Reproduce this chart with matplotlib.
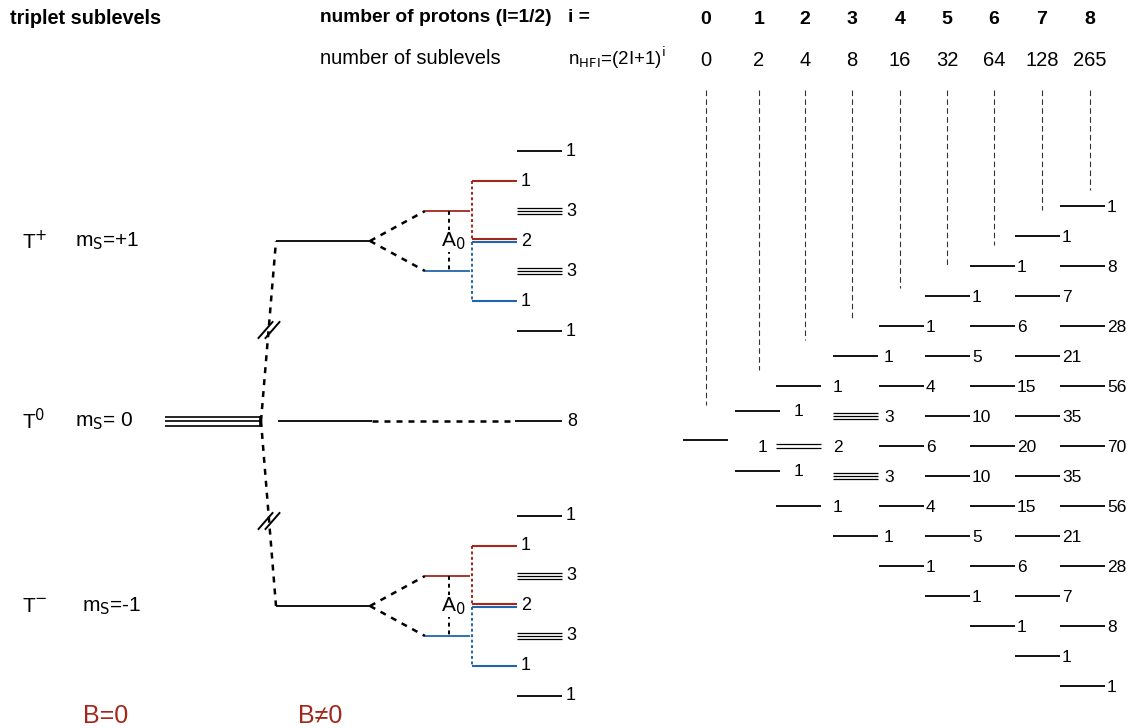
import matplotlib.pyplot as plt

plt.rcParams['font.family'] = ['Liberation Sans', 'DejaVu Sans']

# ---- data ----
proton_numbers = ['0', '1', '2', '3', '4', '5', '6', '7', '8']
sublevel_numbers = ['0', '2', '4', '8', '16', '32', '64', '128', '265']
# degeneracies of the hyperfine sublevels for i protons (top to bottom)
degeneracies = [
    [1],
    [1, 1],
    [1, 2, 1],
    [1, 3, 3, 1],
    [1, 4, 6, 4, 1],
    [1, 5, 10, 10, 5, 1],
    [1, 6, 15, 20, 15, 6, 1],
    [1, 7, 21, 35, 35, 21, 7, 1],
    [1, 8, 28, 56, 70, 56, 28, 8, 1],
]
triplet_labels = ['T$^{+}$', 'T$^{0}$', 'T$^{-}$']
ms_labels = ['m$_\\mathrm{S}$=+1', 'm$_\\mathrm{S}$= 0', 'm$_\\mathrm{S}$=-1']
# sublevels of one T+/T- state for three protons (outer column), top to bottom
outer_degeneracy = [1, 3, 3, 1]
red_degeneracy = [1, 2]
blue_degeneracy = [2, 1]
t0_degeneracy = 8

RED = '#a3271b'
BLUE = '#2166ac'

fig = plt.figure(figsize=(11.32, 7.28), dpi=100)
ax = fig.add_axes([0, 0, 1, 1])
ax.set_xlim(0, 1132)
ax.set_ylim(728, 0)
ax.axis('off')


def level(x0, x1, y, n=1, color='k', lw=1.3, gap=2.4):
    for k in range(n):
        yy = y + (k - (n - 1) / 2) * gap
        ax.plot([x0, x1], [yy, yy], color=color, lw=lw, solid_capstyle='butt')


def dashed(xs, ys, color='k', lw=1.6, dashes=(2.4, 2.4)):
    ax.plot(xs, ys, color=color, lw=lw, dashes=dashes)


# ---- headers ----
ax.text(10, 18, 'triplet sublevels', fontsize=14.3, fontweight='bold', va='center')
ax.text(320, 18, 'number of protons (I=1/2)', fontsize=13.8, fontweight='bold', va='center')
ax.text(568, 18, 'i =', fontsize=13.8, fontweight='bold', va='center')
ax.text(320, 58, 'number of sublevels', fontsize=14.5, va='center')
ax.text(568, 58, 'n$_\\mathrm{HFI}$=(2I+1)$^\\mathrm{i}$', fontsize=13.5, va='center')

head_x = [706, 759, 805, 852, 900, 947, 994, 1042, 1090]
dash_end = [405, 370, 340, 318, 288, 265, 245, 210, 190]
for i in range(len(proton_numbers)):
    ax.text(head_x[i], 19, proton_numbers[i], fontsize=14, fontweight='bold',
            ha='center', va='center')
    ax.text(head_x[i], 60, sublevel_numbers[i], fontsize=14.5, ha='center', va='center')
    ax.plot([head_x[i], head_x[i]], [90, dash_end[i]], color='#333333', lw=0.8,
            dashes=(5, 3))

# ---- left part: triplet levels ----
t_y = [241, 421, 606]
for k in range(3):
    ax.text(22, t_y[k], triplet_labels[k], fontsize=15, va='center')
    ax.text(75 if k < 2 else 82, t_y[k], ms_labels[k], fontsize=15, va='center')

ax.text(83, 716, 'B=0', fontsize=18, color=RED, va='center')
ax.text(298, 716, 'B≠0', fontsize=18, color=RED, va='center')

# B = 0 : threefold degenerate level
level(165, 260, t_y[1], n=3, gap=4.5, lw=1.2)
ax.plot([260, 260], [t_y[1] - 4.5, t_y[1] + 4.5], color='k', lw=1.2)

# splitting in the field
for ty in (t_y[0], t_y[2]):
    dashed([261, 276], [t_y[1], ty], lw=1.8)
    level(276, 370, ty)
for yb in (330, 521):
    for off in (-3.5, 3.5):
        ax.plot([262 + off, 276 + off], [yb + 8, yb - 8], color='k', lw=1.4)

# T0 : no hyperfine splitting visible
level(278, 372, t_y[1])
dashed([372, 515], [t_y[1], t_y[1]], lw=1.8)
level(515, 562, t_y[1])
ax.text(567, t_y[1], str(t0_degeneracy), fontsize=13, va='center')

# T+ and T- : hyperfine splitting by one proton then two more
for ty in (t_y[0], t_y[2]):
    y_red, y_blue = ty - 30, ty + 30
    dashed([370, 425], [ty, y_red], lw=1.8)
    dashed([370, 425], [ty, y_blue], lw=1.8)
    level(425, 470, y_red, color=RED)
    level(425, 470, y_blue, color=BLUE)
    dashed([449, 449], [y_red, y_blue], lw=1.4, dashes=(2, 2))
    ax.text(441, ty, 'A$_0$', fontsize=15, va='center',
            bbox=dict(facecolor='white', edgecolor='none', pad=0.5))

    # red branch
    red_y = [y_red - 30, ty - 2]
    dashed([472, 472], [red_y[0], red_y[1]], color=RED, lw=1.4, dashes=(1.5, 1.3))
    for yy in red_y:
        level(472, 517, yy, color=RED, lw=1.5)
    ax.text(521, red_y[0], str(red_degeneracy[0]), fontsize=13, va='center')
    # blue branch
    blue_y = [ty + 1, y_blue + 30]
    dashed([472, 472], [blue_y[0], blue_y[1]], color=BLUE, lw=1.4, dashes=(1.5, 1.3))
    for yy in blue_y:
        level(472, 517, yy, color=BLUE, lw=1.5)
    ax.text(521, ty, str(blue_degeneracy[0]), fontsize=13, va='center')
    ax.text(521, blue_y[1], str(blue_degeneracy[1]), fontsize=13, va='center')

    # outer black sublevels
    outer_y = [ty - 90, ty - 30, ty + 30, ty + 90]
    for yy, d in zip(outer_y, outer_degeneracy):
        level(517, 562, yy, n=d, gap=2.7, lw=0.9 if d > 1 else 1.3)
        ax.text(566, yy, str(d), fontsize=13, va='center')

# ---- right part: Pascal triangle of sublevels ----
col_x = [683, 735, 776, 833, 879, 925, 970, 1015, 1060]
col_dy = [-6, -5, 0, 0, 0, 0, 0, 0, 0]
label_gap = [30, 14, 12, 6, 2, 2, 2, 2, 2]
y_center = 446
half_step = 30
for i, degs in enumerate(degeneracies):
    x0 = col_x[i]
    for k, d in enumerate(degs):
        yy = y_center - (i - 2 * k) * half_step + col_dy[i]
        n = d if (i <= 3 and d > 1) else 1
        if n > 1:
            level(x0, x0 + 45, yy, n=n, gap=2.7 if i == 3 else 4, lw=0.9)
        else:
            level(x0, x0 + 45, yy)
        lab_dy = 7 if i == 0 else 1
        ax.text(x0 + 45 + label_gap[i], yy + lab_dy, str(d), fontsize=12.5, va='center')

plt.savefig('out.png', dpi=100)
